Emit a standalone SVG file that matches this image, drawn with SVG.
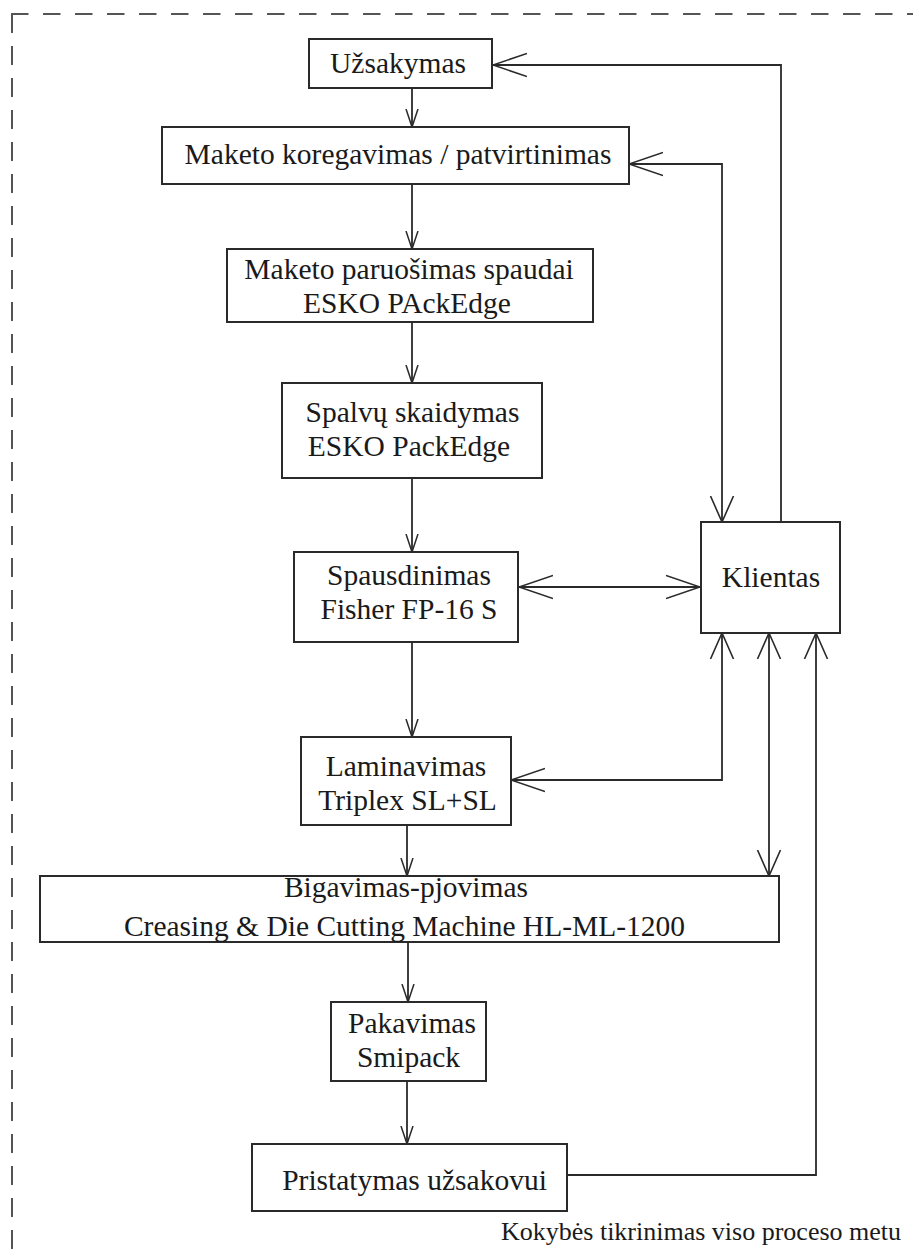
<svg xmlns="http://www.w3.org/2000/svg" width="913" height="1252" viewBox="0 0 913 1252">
<style>
  .box { fill: #ffffff; stroke: #2a2a2a; stroke-width: 2; }
  .t { font-family: "Liberation Serif", "Times New Roman", serif; font-size: 29.5px; fill: #1a1a1a; text-anchor: middle; }
  .note { font-family: "Liberation Serif", "Times New Roman", serif; font-size: 26px; fill: #1a1a1a; text-anchor: middle; }
  .ln { fill: none; stroke: #2a2a2a; stroke-width: 1.8; }
  .dash { fill: none; stroke: #555555; stroke-width: 2; }
</style>
<defs>
  <marker id="sm" viewBox="0 0 18 14" refX="18" refY="7" markerWidth="18" markerHeight="14" markerUnits="userSpaceOnUse" orient="auto-start-reverse">
    <path d="M0,1 L18,7 L0,13" fill="none" stroke="#2a2a2a" stroke-width="1.5"/>
  </marker>
  <marker id="bg" viewBox="0 0 34 26" refX="34" refY="13" markerWidth="34" markerHeight="26" markerUnits="userSpaceOnUse" orient="auto-start-reverse">
    <path d="M0,1.5 L34,13 L0,24.5" fill="none" stroke="#2a2a2a" stroke-width="1.6"/>
  </marker>
  <marker id="md" viewBox="0 0 26 26" refX="26" refY="13" markerWidth="26" markerHeight="26" markerUnits="userSpaceOnUse" orient="auto-start-reverse">
    <path d="M0,1.5 L26,13 L0,24.5" fill="none" stroke="#2a2a2a" stroke-width="1.6"/>
  </marker>
</defs>

<g id="frame">
  <line class="dash" x1="12" y1="14" x2="12" y2="1252" stroke-dasharray="19 13"/>
  <line class="dash" x1="11" y1="14" x2="913" y2="14" stroke-dasharray="17.5 14.5"/>
</g>

<g id="connectors">
  <line class="ln" x1="412" y1="88" x2="412" y2="127" marker-end="url(#sm)"/>
  <line class="ln" x1="412" y1="184" x2="412" y2="249" marker-end="url(#sm)"/>
  <line class="ln" x1="412" y1="322" x2="412" y2="383" marker-end="url(#sm)"/>
  <line class="ln" x1="412" y1="478" x2="412" y2="552" marker-end="url(#sm)"/>
  <line class="ln" x1="412" y1="642" x2="412" y2="737" marker-end="url(#sm)"/>
  <line class="ln" x1="407" y1="825" x2="407" y2="876" marker-end="url(#sm)"/>
  <line class="ln" x1="408" y1="942" x2="408" y2="1002" marker-end="url(#sm)"/>
  <line class="ln" x1="407" y1="1081" x2="407" y2="1144" marker-end="url(#sm)"/>

  <polyline class="ln" points="781,522 781,65 493,65" marker-end="url(#bg)"/>
  <polyline class="ln" points="629,164 722,164 722,522" marker-start="url(#bg)" marker-end="url(#md)"/>
  <line class="ln" x1="519" y1="587" x2="700" y2="587" marker-start="url(#bg)" marker-end="url(#bg)"/>
  <polyline class="ln" points="722,633 722,780 511,780" marker-start="url(#md)" marker-end="url(#bg)"/>
  <line class="ln" x1="769" y1="633" x2="769" y2="876" marker-start="url(#md)" marker-end="url(#md)"/>
  <polyline class="ln" points="567,1175 816,1175 816,633" marker-end="url(#md)"/>
</g>

<g id="uzsakymas">
  <rect class="box" x="309" y="39" width="183" height="49"/>
  <text class="t" x="398" y="73">Užsakymas</text>
</g>
<g id="maketo-koregavimas">
  <rect class="box" x="162" y="127" width="467" height="57"/>
  <text class="t" x="398" y="163.5">Maketo koregavimas / patvirtinimas</text>
</g>
<g id="maketo-paruosimas">
  <rect class="box" x="227" y="249" width="366" height="73"/>
  <text class="t" x="409" y="279">Maketo paruošimas spaudai</text>
  <text class="t" x="407" y="313">ESKO PAckEdge</text>
</g>
<g id="spalvu-skaidymas">
  <rect class="box" x="282" y="383" width="260" height="95"/>
  <text class="t" x="412.5" y="421.5">Spalvų skaidymas</text>
  <text class="t" x="409" y="456">ESKO PackEdge</text>
</g>
<g id="spausdinimas">
  <rect class="box" x="294" y="552" width="224" height="90"/>
  <text class="t" x="409" y="585">Spausdinimas</text>
  <text class="t" x="409" y="619">Fisher FP-16 S</text>
</g>
<g id="klientas">
  <rect class="box" x="701" y="522" width="139" height="111"/>
  <text class="t" x="771" y="587">Klientas</text>
</g>
<g id="laminavimas">
  <rect class="box" x="301" y="737" width="210" height="88"/>
  <text class="t" x="406" y="776">Laminavimas</text>
  <text class="t" x="407.5" y="810">Triplex SL+SL</text>
</g>
<g id="bigavimas">
  <rect class="box" x="40" y="876" width="739" height="66"/>
  <text class="t" x="406" y="897">Bigavimas-pjovimas</text>
  <text class="t" x="404.5" y="936">Creasing &amp; Die Cutting Machine HL-ML-1200</text>
</g>
<g id="pakavimas">
  <rect class="box" x="331" y="1002" width="155" height="79"/>
  <text class="t" x="412" y="1033">Pakavimas</text>
  <text class="t" x="408.5" y="1067">Smipack</text>
</g>
<g id="pristatymas">
  <rect class="box" x="252" y="1144" width="315" height="67"/>
  <text class="t" x="414.5" y="1190">Pristatymas užsakovui</text>
</g>
<g id="kokybe">
  <text class="note" x="701" y="1240">Kokybės tikrinimas viso proceso metu</text>
</g>
</svg>
